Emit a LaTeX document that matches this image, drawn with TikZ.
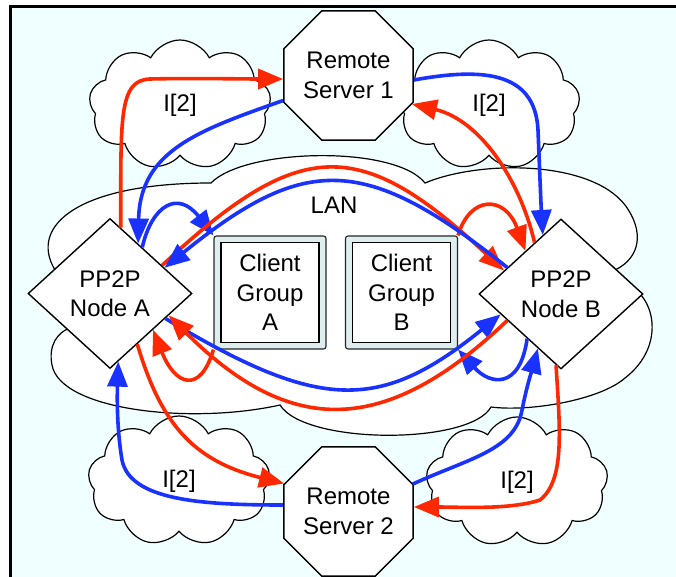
\documentclass[tikz,border=0pt]{standalone}
\usepackage{fontspec}
\setmainfont{Liberation Sans}
\usetikzlibrary{shapes.geometric,shapes.symbols,arrows.meta,calc}

\definecolor{bgcyan}{RGB}{240,255,255}
\definecolor{linkred}{RGB}{255,40,0}
\definecolor{linkblue}{RGB}{25,50,255}
\definecolor{boxrim}{RGB}{222,238,238}

\begin{document}
\begin{tikzpicture}[x=1pt, y=-1pt, font=\fontsize{24}{29.5}\selectfont,
    server/.style={draw, line width=1.4pt, fill=white, regular polygon, regular polygon sides=8,
        minimum size=140pt, inner sep=0pt, align=center},
    peer/.style={draw, line width=1.4pt, fill=white, diamond, aspect=1.09,
        minimum width=164pt, minimum height=150pt, inner sep=0pt, align=center},
    grouprim/.style={draw=black!85, line width=1.1pt, fill=boxrim, rounded corners=2.5pt,
        minimum width=112pt, minimum height=113pt, inner sep=0pt},
    groupbox/.style={draw, line width=1.8pt, fill=white, minimum width=98pt,
        minimum height=100pt, inner sep=0pt, align=center},
    inet/.style={draw, line width=1.2pt, fill=white, cloud, cloud puffs=9, cloud puff arc=125,
        aspect=1.5, minimum width=182pt, minimum height=130pt, inner sep=0pt},
    redlink/.style={draw=linkred, line width=3.6pt, -{Triangle[length=25pt,width=20pt]}},
    bluelink/.style={draw=linkblue, line width=3.6pt, -{Triangle[length=25pt,width=20pt]}}]
    \useasboundingbox (0,0) rectangle (676,577);
    \fill[bgcyan] (10.5,6.5) rectangle (676,577);
    \draw[line width=3pt] (10.5,577) -- (10.5,6.5) -- (676,6.5);

    % LAN cloud
    \draw[line width=1.2pt, fill=white] (211,183)
        .. controls (245,148) and (395,145) .. (425,183)
        .. controls (480,160) and (590,160) .. (625,205)
        .. controls (645,232) and (640,258) .. (615,270)
        -- (620,282)
        .. controls (655,290) and (668,345) .. (625,378)
        .. controls (600,400) and (530,412) .. (491,407)
        .. controls (470,445) and (305,445) .. (280,405)
        .. controls (190,425) and (60,410) .. (52,365)
        .. controls (48,345) and (58,332) .. (70,328)
        -- (55,270)
        .. controls (28,225) and (80,183) .. cycle;
    \node (lan) at (334,205) {LAN};

    \node[inet] (ia1) at (180,105) {I[2]};
    \node[inet] (ib1) at (489,105) {I[2]};
    \node[inet] (ia2) at (179,481) {I[2]};
    \node[inet] (ib2) at (517,482) {I[2]};

    \node[server] (s1) at (348.5,75.5) {Remote\\Server 1};
    \node[server] (s2) at (348.5,511.5) {Remote\\Server 2};
    \node[peer] (nodea) at (110,293.5) {PP2P\\Node A};
    \node[peer] (nodeb) at (561,294) {PP2P\\Node B};
    \node[grouprim] (cga) at (270,292.5) {};
    \node[groupbox] (cgain) at (cga) {Client\\Group\\A};
    \node[grouprim] (cgb) at (401.5,292.5) {};
    \node[groupbox] (cgbin) at (cgb) {Client\\Group\\B};

    % to and from server 1
    \draw[redlink] ($(nodea.north)!0.13!(nodea.east)$) .. controls (121,120) and (118,80) .. (150,79)
        .. controls (190,78) and (240,79) .. ($(s1.west)+(0,3.5)$);
    \draw[bluelink] ($(s1.west)+(0,25)$) .. controls (200,130) and (140,150) .. ($(nodea.north)!0.34!(nodea.east)$);
    \draw[bluelink] ($(s1.east)+(0,4.5)$) .. controls (480,68) and (535,70) .. (538,130)
        .. controls (540,180) and (541,205) .. ($(nodeb.north)!0.22!(nodeb.west)$);
    \draw[redlink] ($(nodeb.north)!0.32!(nodeb.west)$) .. controls (520,180) and (480,120) .. ($(s1.east)+(-2,28.5)$);

    % client groups
    \draw[bluelink] ($(nodea.north)!0.39!(nodea.east)$) .. controls (152,205) and (178,190) .. (cga.north west);
    \draw[redlink] (cga.south west) .. controls (200,395) and (175,385) .. ($(nodea.south)!0.52!(nodea.east)$);
    \draw[redlink] (cgb.north east) .. controls (470,195) and (505,195) .. ($(nodeb.north)!0.43!(nodeb.west)$);
    \draw[bluelink] ($(nodeb.south)!0.41!(nodeb.west)$) .. controls (520,390) and (490,385) .. (cgb.south east);

    % across the LAN
    \draw[redlink] ($(nodea.north)!0.63!(nodea.east)$) .. controls (300,136) and (360,136) .. ($(nodeb.north)!0.69!(nodeb.west)$);
    \draw[bluelink] ($(nodeb.north)!0.65!(nodeb.west)$) .. controls (365,154) and (305,154) .. ($(nodea.north)!0.66!(nodea.east)$);
    \draw[bluelink] ($(nodea.south)!0.67!(nodea.east)$) .. controls (320,412) and (380,412) .. ($(nodeb.south)!0.73!(nodeb.west)$);
    \draw[redlink] ($(nodeb.south)!0.65!(nodeb.west)$) .. controls (385,437) and (290,437) .. ($(nodea.south)!0.71!(nodea.east)$);

    % to and from server 2
    \draw[bluelink] ($(s2.west)+(0,-6.5)$) .. controls (200,505) and (130,500) .. (122,460)
        .. controls (117,430) and (117,400) .. ($(nodea.south)!0.1!(nodea.east)$);
    \draw[redlink] ($(nodea.south)!0.33!(nodea.east)$) .. controls (160,420) and (190,460) .. ($(s2.west)+(1,-28)$);
    \draw[bluelink] ($(s2.east)+(-1,-27.5)$) .. controls (470,458) and (515,450) .. (522,410)
        .. controls (527,385) and (532,370) .. ($(nodeb.south)!0.28!(nodeb.west)$);
    \draw[redlink] ($(nodeb.south)!0.06!(nodeb.west)$) .. controls (560,430) and (565,480) .. (540,500)
        .. controls (510,510) and (460,507) .. ($(s2.east)+(0,-4.5)$);
\end{tikzpicture}
\end{document}
